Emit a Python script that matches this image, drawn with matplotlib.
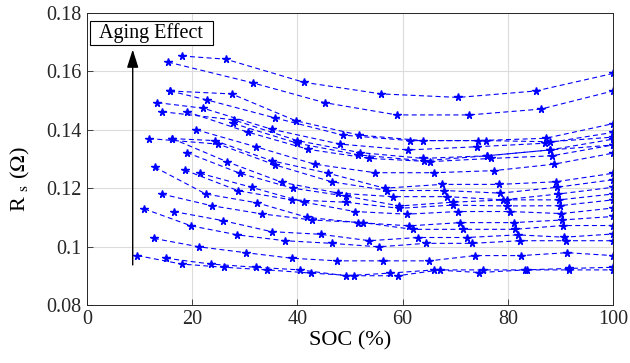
import matplotlib
matplotlib.use("Agg")
import matplotlib.pyplot as plt
from matplotlib.patches import Rectangle

# ---- data ----
soc_c1 = [18.0, 26.4, 41.2, 55.9, 70.6, 85.3, 100]
rs_c1 = [0.1653, 0.1642, 0.1563, 0.1523, 0.1511, 0.1533, 0.1593]
soc_c2 = [15.4, 31.5, 45.2, 58.9, 72.7, 86.3, 100]
rs_c2 = [0.1632, 0.1561, 0.1493, 0.1451, 0.1451, 0.1471, 0.1533]
soc_c3 = [15.8, 22.9, 35.7, 48.6, 61.4, 74.3, 87.2, 100]
rs_c3 = [0.1533, 0.1502, 0.1441, 0.1382, 0.1363, 0.1363, 0.1371, 0.1421]
soc_c4 = [13.4, 22.1, 35.1, 48.1, 61.1, 74.1, 87.1, 100]
rs_c4 = [0.1493, 0.1474, 0.1402, 0.1351, 0.1331, 0.1342, 0.1354, 0.1391]
soc_c5 = [15.8, 27.5, 39.7, 51.7, 63.8, 75.9, 88.0, 100]
rs_c5 = [0.1533, 0.1523, 0.1431, 0.1382, 0.1363, 0.1363, 0.1359, 0.1375]
soc_c6 = [14.3, 27.9, 40.0, 51.9, 63.9, 76.0, 88.0, 100]
rs_c6 = [0.1462, 0.1434, 0.1363, 0.1322, 0.1302, 0.1311, 0.1331, 0.1368]
soc_c6b = [27.8, 40.0, 51.6, 64.1, 76.0, 88.0, 100]
rs_c6b = [0.1422, 0.1354, 0.1314, 0.1294, 0.1311, 0.1331, 0.1348]
soc_c7 = [19.0, 30.6, 42.1, 53.7, 65.3, 76.9, 88.4, 100]
rs_c7 = [0.1462, 0.1392, 0.1333, 0.1302, 0.1291, 0.1302, 0.1311, 0.1348]
soc_c8 = [20.8, 32.1, 43.3, 54.8, 66.0, 77.3, 88.7, 100]
rs_c8 = [0.1400, 0.1342, 0.1282, 0.1253, 0.1253, 0.1260, 0.1282, 0.1320]
soc_c9 = [16.2, 24.3, 35.1, 45.9, 56.6, 67.5, 78.4, 89.2, 100]
rs_c9 = [0.1370, 0.1363, 0.1294, 0.1251, 0.1200, 0.1213, 0.1213, 0.1222, 0.1251]
soc_c10 = [11.8, 25.0, 35.7, 46.5, 57.1, 67.9, 78.6, 89.3, 100]
rs_c10 = [0.1370, 0.1351, 0.1280, 0.1222, 0.1192, 0.1192, 0.1183, 0.1203, 0.1229]
soc_c11 = [16.2, 26.7, 37.1, 47.8, 58.1, 68.5, 79.1, 89.6, 100]
rs_c11 = [0.1370, 0.1290, 0.1220, 0.1183, 0.1171, 0.1171, 0.1160, 0.1180, 0.1203]
soc_c12 = [19.0, 29.1, 39.1, 49.2, 59.4, 69.5, 79.8, 89.8, 100]
rs_c12 = [0.1322, 0.1251, 0.1200, 0.1173, 0.1139, 0.1152, 0.1160, 0.1160, 0.1180]
soc_c13 = [18.6, 28.8, 38.9, 49.2, 59.4, 69.5, 79.8, 89.9, 100]
rs_c13 = [0.1262, 0.1191, 0.1160, 0.1152, 0.1131, 0.1142, 0.1139, 0.1140, 0.1160]
soc_c14 = [21.5, 31.3, 41.3, 50.9, 60.8, 70.6, 80.4, 90.2, 100]
rs_c14 = [0.1251, 0.1203, 0.1152, 0.1120, 0.1111, 0.1120, 0.1120, 0.1113, 0.1132]
soc_c15 = [12.9, 22.6, 32.3, 41.9, 51.6, 61.3, 71.0, 81.1, 90.3, 100]
rs_c15 = [0.1272, 0.1180, 0.1150, 0.1100, 0.1082, 0.1071, 0.1082, 0.1082, 0.1091, 0.1103]
soc_c16 = [14.2, 23.7, 33.2, 42.8, 52.5, 61.9, 71.4, 81.3, 90.5, 100]
rs_c16 = [0.1180, 0.1140, 0.1112, 0.1091, 0.1082, 0.1059, 0.1059, 0.1059, 0.1072, 0.1072]
soc_c17 = [16.5, 25.8, 35.1, 44.4, 53.7, 62.9, 72.2, 81.9, 90.7, 100]
rs_c17 = [0.1120, 0.1089, 0.1051, 0.1042, 0.1020, 0.1031, 0.1031, 0.1040, 0.1032, 0.1043]
soc_c18 = [10.9, 19.8, 28.6, 37.6, 46.5, 55.5, 64.4, 73.2, 82.4, 91.0, 100]
rs_c18 = [0.1129, 0.1071, 0.1040, 0.1020, 0.1011, 0.0999, 0.1011, 0.1011, 0.1020, 0.1020, 0.1020]
soc_c19 = [12.7, 21.3, 30.2, 38.9, 47.6, 56.3, 65.1, 73.8, 82.5, 91.3, 100]
rs_c19 = [0.1028, 0.0999, 0.0979, 0.0960, 0.0951, 0.0951, 0.0951, 0.0969, 0.0969, 0.0979, 0.0969]
soc_c20 = [15.0, 23.6, 32.1, 40.5, 49.2, 57.6, 66.0, 74.6, 83.3, 91.6, 100]
rs_c20 = [0.0960, 0.0940, 0.0929, 0.0920, 0.0900, 0.0909, 0.0920, 0.0911, 0.0920, 0.0925, 0.0929]
soc_c21 = [9.6, 18.0, 26.1, 34.3, 42.6, 50.8, 59.1, 67.1, 75.3, 83.6, 91.7, 100]
rs_c21 = [0.0969, 0.0940, 0.0929, 0.0920, 0.0909, 0.0900, 0.0900, 0.0920, 0.0920, 0.0920, 0.0920, 0.0920]

curves = [
    (soc_c1, rs_c1), (soc_c2, rs_c2), (soc_c3, rs_c3), (soc_c4, rs_c4),
    (soc_c5, rs_c5), (soc_c6, rs_c6), (soc_c6b, rs_c6b), (soc_c7, rs_c7),
    (soc_c8, rs_c8), (soc_c9, rs_c9), (soc_c10, rs_c10), (soc_c11, rs_c11),
    (soc_c12, rs_c12), (soc_c13, rs_c13), (soc_c14, rs_c14), (soc_c15, rs_c15),
    (soc_c16, rs_c16), (soc_c17, rs_c17), (soc_c18, rs_c18), (soc_c19, rs_c19),
    (soc_c20, rs_c20), (soc_c21, rs_c21),
]

x_ticks = [0, 20, 40, 60, 80, 100]
y_ticks = [0.08, 0.10, 0.12, 0.14, 0.16, 0.18]
y_tick_labels = ["0.08", "0.1", "0.12", "0.14", "0.16", "0.18"]
arrow_x = 8.7
arrow_y0, arrow_y1 = 0.0937, 0.1675
annot_text = "Aging Effect"
box_x0, box_x1 = 0.6, 23.9
box_y0, box_y1 = 0.1690, 0.1773

# ---- plotting ----
plt.rcParams['font.family'] = ['Liberation Serif', 'DejaVu Serif']
plt.rcParams['mathtext.fontset'] = 'stix'

fig = plt.figure(figsize=(6.30, 3.63), dpi=100)
ax = fig.add_axes([0.138, 0.160, 0.835, 0.804])

for s, r in curves:
    ax.plot(s, r, color=(0, 0, 1), linestyle=(0, (4.5, 3.0)), linewidth=0.8,
            marker='*', markersize=5.5, markeredgewidth=1.0)

ax.set_xlim(0, 100)
ax.set_ylim(0.08, 0.18)
ax.set_xticks(x_ticks)
ax.set_yticks(y_ticks)
ax.set_yticklabels(y_tick_labels)
ax.grid(True, color='#dcdcdc', linewidth=0.8)
ax.set_axisbelow(True)
ax.tick_params(direction='in', length=4, labelsize=14.5, colors='#262626', width=0.6, pad=4)
for sp in ax.spines.values():
    sp.set_color('#262626')
    sp.set_linewidth(0.7)

ax.set_xlabel("SOC (%)", fontsize=16, labelpad=1)
ax.set_ylabel(r"R $_{\mathrm{s}}$ ($\Omega$)", fontsize=16)
ax.yaxis.set_label_coords(-0.105, 0.43)

ax.annotate("", xy=(arrow_x, arrow_y1), xytext=(arrow_x, arrow_y0),
            arrowprops=dict(arrowstyle='-|>,head_length=1.1,head_width=0.35',
                            color='black', lw=1.0, shrinkA=0, shrinkB=0))
ax.add_patch(Rectangle((box_x0, box_y0), box_x1 - box_x0, box_y1 - box_y0,
                       facecolor='white', edgecolor='black', linewidth=0.8, zorder=5))
ax.text((box_x0 + box_x1) / 2, (box_y0 + box_y1) / 2, annot_text, fontsize=14.5,
        ha='center', va='center', zorder=6)

fig.savefig("out.png", dpi=100)
